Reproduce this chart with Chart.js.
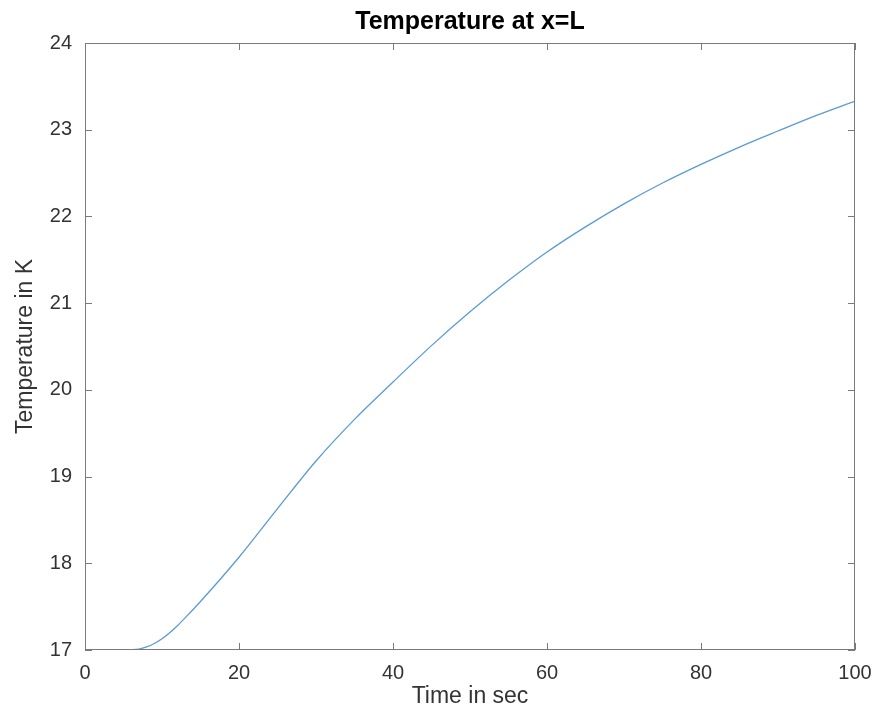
<!DOCTYPE html>
<html>
<head>
<meta charset="utf-8">
<title>Temperature at x=L</title>
<script src="https://cdn.jsdelivr.net/npm/chart.js@4.4.0/dist/chart.umd.min.js"></script>
<style>
  html, body { margin: 0; padding: 0; background: #fff; }
  #wrap { width: 877px; height: 722px; }
</style>
</head>
<body>
<div id="wrap"><canvas id="myChart" width="877" height="722"></canvas></div>
<script>
// time (s) and temperature (K)
let timeSec = [0, 5, 6, 7, 8, 9, 10, 11, 12, 13, 15, 20, 25, 30, 35, 40, 45, 50, 55, 60, 65, 70, 75, 80, 85, 90, 95, 100];
let tempK = [17.0, 17.0, 17.002, 17.01, 17.035, 17.075, 17.13, 17.2, 17.28, 17.37, 17.56, 18.07, 18.63, 19.18, 19.66, 20.09, 20.51, 20.9, 21.26, 21.59, 21.88, 22.145, 22.385, 22.6, 22.8, 22.985, 23.165, 23.33];
let xTicks = [0, 20, 40, 60, 80, 100];
let yTicks = [17, 18, 19, 20, 21, 22, 23, 24];
let chartTitle = "Temperature at x=L";

let axisColor = "#7a7a7a";
let textColor = "#333333";
let fontName = "Liberation Sans, Arial, sans-serif";

// draws the box, the inward tick marks and the title centred on the axes, matlab style
let boxPlugin = {
  id: "box",
  afterDraw(chart) {
    let ctx = chart.ctx;
    let a = chart.chartArea;
    let xs = chart.scales.x;
    let ys = chart.scales.y;
    ctx.save();
    ctx.strokeStyle = axisColor;
    ctx.lineWidth = 1;
    ctx.strokeRect(a.left + 0.5, a.top + 0.5, a.right - a.left - 1, a.bottom - a.top - 1);
    ctx.beginPath();
    xTicks.forEach(function (t) {
      let px = Math.round(xs.getPixelForValue(t)) + 0.5;
      ctx.moveTo(px, a.bottom);
      ctx.lineTo(px, a.bottom - 7);
      ctx.moveTo(px, a.top);
      ctx.lineTo(px, a.top + 7);
    });
    yTicks.forEach(function (t) {
      let py = Math.round(ys.getPixelForValue(t)) + 0.5;
      ctx.moveTo(a.left, py);
      ctx.lineTo(a.left + 7, py);
      ctx.moveTo(a.right, py);
      ctx.lineTo(a.right - 7, py);
    });
    ctx.stroke();

    ctx.fillStyle = "#000";
    ctx.font = "bold 25px " + fontName;
    ctx.textAlign = "center";
    ctx.textBaseline = "middle";
    ctx.fillText(chartTitle, (a.left + a.right) / 2, a.top - 21);
    ctx.restore();
  }
};

let points = timeSec.map(function (t, i) {
  return { x: t, y: tempK[i] };
});

new Chart("myChart", {
  type: "line",
  data: {
    datasets: [
      {
        data: points,
        borderColor: "#5a9bd5",
        borderWidth: 1.3,
        pointRadius: 0,
        cubicInterpolationMode: "monotone",
        fill: false,
      },
    ],
  },
  options: {
    responsive: false,
    animation: false,
    layout: { padding: { left: 12, right: 22, top: 43, bottom: 12 } },
    plugins: {
      legend: { display: false },
      tooltip: { enabled: false },
      title: { display: false },
    },
    scales: {
      x: {
        type: "linear",
        min: 0,
        max: 100,
        afterBuildTicks(scale) {
          scale.ticks = xTicks.map(function (v) { return { value: v }; });
        },
        afterFit(scale) {
          scale.height = 60;
        },
        grid: { display: false },
        border: { display: false },
        ticks: {
          color: textColor,
          font: { family: fontName, size: 20 },
          padding: 3,
          maxRotation: 0,
        },
        title: {
          display: true,
          text: "Time in sec",
          color: textColor,
          font: { family: fontName, size: 23 },
          padding: { top: 0, bottom: 0 },
        },
      },
      y: {
        min: 17,
        max: 24,
        afterBuildTicks(scale) {
          scale.ticks = yTicks.map(function (v) { return { value: v }; });
        },
        afterFit(scale) {
          scale.width = 73;
        },
        grid: { display: false },
        border: { display: false },
        ticks: {
          color: textColor,
          font: { family: fontName, size: 20 },
          padding: 5,
        },
        title: {
          display: true,
          text: "Temperature in K",
          color: textColor,
          font: { family: fontName, size: 23 },
          padding: { top: 0, bottom: 4 },
        },
      },
    },
  },
  plugins: [boxPlugin],
});
</script>
</body>
</html>
